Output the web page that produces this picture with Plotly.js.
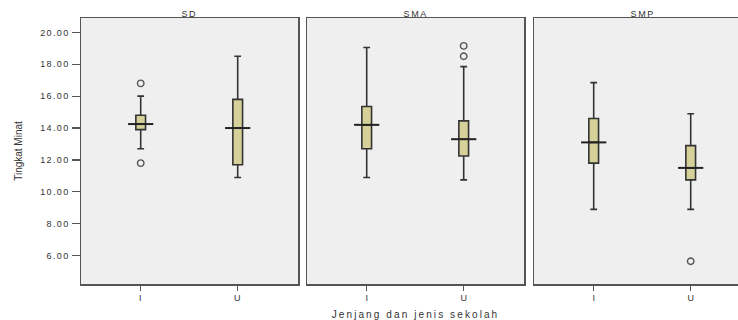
<!DOCTYPE html>
<html>
<head>
<meta charset="utf-8">
<script src="https://cdn.plot.ly/plotly-3.0.1.min.js"></script>
<style>
  html, body { margin: 0; padding: 0; background: #ffffff; overflow: hidden; }
  #chart { width: 738px; height: 320px; }
  /* SPSS-style spaced lettering */
  #chart .ytick text { letter-spacing: 1.4px; }
  #chart .xtick text { letter-spacing: 1px; }
  #chart .x2title { letter-spacing: 2.1px; }
  #chart .annotation-text { letter-spacing: 1.6px; }
</style>
</head>
<body>
<div id="chart"></div>
<script>
// School level panels and school type within each panel
const levels = ['SD', 'SMA', 'SMP'];
const types = ['I', 'U'];

// Box statistics, ordered SD-I, SD-U, SMA-I, SMA-U, SMP-I, SMP-U
const lowerWhisker = [12.7, 10.9, 10.9, 10.75, 8.9, 8.9];
const q1 = [13.9, 11.7, 12.7, 12.25, 11.8, 10.75];
const medians = [14.25, 14.0, 14.2, 13.3, 13.1, 11.5];
const q3 = [14.8, 15.8, 15.35, 14.45, 14.6, 12.9];
const upperWhisker = [16.0, 18.5, 19.05, 17.85, 16.85, 14.9];

// Outlying cases
const outlierLevel = ['SD', 'SD', 'SMA', 'SMA', 'SMP'];
const outlierType = ['I', 'I', 'U', 'U', 'U'];
const outlierValues = [16.8, 11.8, 19.15, 18.5, 5.65];

// Y axis ticks
const yTickValues = [6, 8, 10, 12, 14, 16, 18, 20];

const FONT = 'Liberation Sans, Arial, sans-serif';
const boxFill = '#d6d099';
const inkColor = '#333333';
const axisColor = '#555555';
const crossHalf = 0.13;

const traces = [];
levels.forEach((lvl, k) => {
  const xa = k === 0 ? 'x' : 'x' + (k + 1);
  const ya = k === 0 ? 'y' : 'y' + (k + 1);
  const pos = types.map((t, i) => i);
  const sl = arr => arr.slice(2 * k, 2 * k + 2);

  traces.push({
    type: 'box',
    x: pos,
    q1: sl(q1),
    median: sl(medians),
    q3: sl(q3),
    lowerfence: sl(lowerWhisker),
    upperfence: sl(upperWhisker),
    boxpoints: false,
    width: 0.1,
    whiskerwidth: 0.7,
    fillcolor: boxFill,
    line: { color: inkColor, width: 1.6 },
    xaxis: xa, yaxis: ya,
    hoverinfo: 'skip',
    showlegend: false
  });

  // Median cross bar, wider than the box
  const mx = [], my = [];
  sl(medians).forEach((m, i) => {
    mx.push(i - crossHalf, i + crossHalf, null);
    my.push(m, m, null);
  });
  traces.push({
    type: 'scatter', mode: 'lines',
    x: mx, y: my,
    line: { color: '#222222', width: 2 },
    xaxis: xa, yaxis: ya,
    hoverinfo: 'skip', showlegend: false
  });

  // Outliers for this level
  const ox = [], oy = [];
  outlierLevel.forEach((l, j) => {
    if (l === lvl) {
      ox.push(types.indexOf(outlierType[j]));
      oy.push(outlierValues[j]);
    }
  });
  traces.push({
    type: 'scatter', mode: 'markers',
    x: ox, y: oy,
    marker: { symbol: 'circle-open', size: 6.5, color: '#555555', line: { width: 1.4 } },
    xaxis: xa, yaxis: ya,
    hoverinfo: 'skip', showlegend: false
  });
});

const W = 738, H = 320;
const panelW = 217, unit = 97, leftPad = 59.7;
const panelLeft = [81, 307, 534];
const yDomain = [1 - 284 / H, 1 - 18 / H];

function xAxis(k) {
  const left = panelLeft[k];
  const right = Math.min(left + panelW, W);
  const span = (right - left) / unit;
  const ax = {
    domain: [left / W, right / W],
    range: [-leftPad / unit, -leftPad / unit + span],
    tickvals: [0, 1],
    ticktext: types,
    ticks: 'outside', ticklen: 5, tickwidth: 1.5, tickcolor: axisColor,
    tickfont: { family: FONT, size: 9, color: '#333333' },
    showline: true, linecolor: axisColor, linewidth: 1.5, mirror: true,
    showgrid: false, zeroline: false, fixedrange: true,
    anchor: k === 0 ? 'y' : 'y' + (k + 1)
  };
  if (k === 1) {
    ax.title = {
      text: 'Jenjang dan jenis sekolah',
      font: { family: FONT, size: 10, color: '#333333' },
      standoff: 9
    };
  }
  return ax;
}

function yAxis(k) {
  const ax = {
    domain: yDomain,
    range: [4.22, 20.9],
    showline: true, linecolor: axisColor, linewidth: 1.5,
    mirror: k < 2,
    showgrid: false, zeroline: false, fixedrange: true,
    anchor: k === 0 ? 'x' : 'x' + (k + 1)
  };
  if (k === 0) {
    Object.assign(ax, {
      tickvals: yTickValues,
      tickformat: '.2f',
      ticks: 'outside', ticklen: 8, tickwidth: 1.2, tickcolor: axisColor,
      tickfont: { family: FONT, size: 9, color: '#333333' },
      title: {
        text: 'Tingkat Minat',
        font: { family: 'Liberation Sans Narrow, Arial Narrow, ' + FONT, size: 10, color: '#333333' },
        standoff: 22
      }
    });
  } else {
    Object.assign(ax, { matches: 'y', showticklabels: false, ticks: '' });
  }
  return ax;
}

const layout = {
  width: W, height: H,
  margin: { l: 0, r: 0, t: 0, b: 0 },
  paper_bgcolor: '#ffffff',
  plot_bgcolor: '#efefef',
  showlegend: false,
  xaxis: xAxis(0), xaxis2: xAxis(1), xaxis3: xAxis(2),
  yaxis: yAxis(0), yaxis2: yAxis(1), yaxis3: yAxis(2),
  annotations: levels.map((lvl, k) => {
    const left = panelLeft[k];
    return {
      text: lvl,
      xref: 'paper', yref: 'paper',
      x: (left + panelW / 2) / W, y: yDomain[1],
      xanchor: 'center', yanchor: 'bottom', yshift: -3,
      showarrow: false,
      font: { family: FONT, size: 9, color: '#333333' }
    };
  })
};

Plotly.newPlot('chart', traces, layout, { staticPlot: true, displayModeBar: false });
</script>
</body>
</html>
